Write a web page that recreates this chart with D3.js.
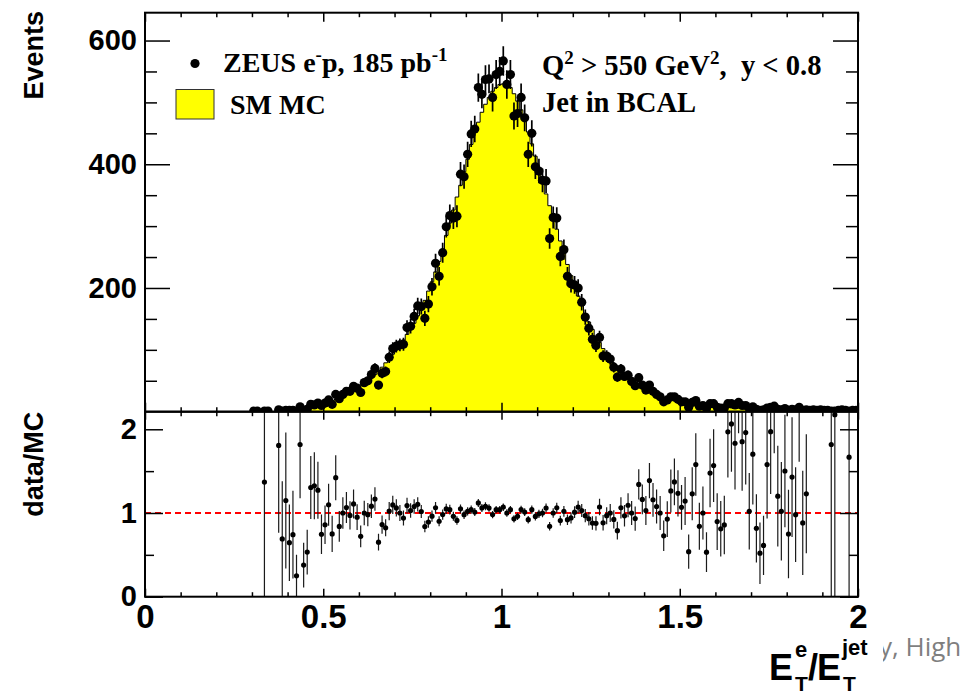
<!DOCTYPE html>
<html><head><meta charset="utf-8">
<script src="https://cdn.jsdelivr.net/npm/d3@7"></script>
<style>body{margin:0;background:#fff}svg{display:block}</style>
</head><body>
<svg id="c" width="969" height="692"></svg>
<script>
// ---------------- data ----------------
const binLow = 0, binWidth = 0.01, nBins = 200;
// SM MC histogram (events per bin of 0.01)
const mcValues = [
0,0,0,0,0,0,0,0,0,0, 0,0,0,0,0,0,0,0,0,0, 0,0,0,0,0,0,0,0,0,0,
0,0,0,0.73,0,0,0,1.66,1.45,1.74, 3.1,2.7,4.0,4.4,5.3,7.5,9.2,8.3,11,13.4,
16.3,17.3,16,19.7,25,28,31,34,37,40, 43,47,51,55.5,60,66,72,79,86,93,
100,108,116,125,134,143,155,167,180,195, 210,226,243,262,285,305,326,347,366,388,
408,432,452,468,484,497,508,518,524,529, 530,529,524,514,502,488,470,452,433,413,
393,374,352,333,314,295,276,257,238,220, 203,187,172,158,145,133,122,112,102,93,
85,78,71,65,59,54,49,45,41,37, 34,31,28.5,26,24,22,20.5,19,17.5,16.2,
15,14,13,12.2,11.4,10.7,10,9.4,8.8,8.3, 7.8,7.4,7.0,6.6,6.3,6.0,5.7,5.4,5.1,4.9,
4.7,4.9,3.85,4.9,3.8,3.55,3.5,3.33,2.94,3.33, 2.67,2.8,3.06,2.7,2.27,2.44,0,0,0,0,
0,0,0.55,0.46,0,0,0,0.6,0,0
];
// ZEUS e-p data (events per bin)
const dataValues = [
0,0,0,0,0,0,0,0,0,0, 0,0,0,0,0,0,0,0,0,0, 0,0,0,0,0,0,0,0,0,0,
1,1,0,1,1,0,0,3,1,2, 2,2,1,8,2,4,12,11,14,10,
14,19,12,28,21,28,33,33,41,38, 31,47,50,60,70,43,62,65,88,102,
106,108,109,136,138,154,171,170,151,174, 202,240,219,257,299,317,313,316,384,380,
416,449,457,524,513,537,538,508,545,550, 567,529,545,478,482,508,475,416,450,396,
389,374,373,280,314,313,251,262,219,207, 205,200,177,153,135,117,107,120,90,90,
85,72,56,69,57,59,49,42,55,43, 35,43,33,28,24,16,19,24,24,20,
16,16,7,15,18,9,10,5,13,13, 7,6,6,13,13,11,15,10,10,5,
8,4,2,3,6,7,9,4,3,5, 2,4,3,7,2,3,2,3,2,3,
2,2,1,1,2,3,2,1,2,2
];
const xMajorTicks = [0, 0.5, 1, 1.5, 2];
const xTickLabels = ["0", "0.5", "1", "1.5", "2"];
const yMajorTicks = [200, 400, 600];
const ratioMajorTicks = [0, 1, 2];
const ratioMinorTicks = [0.5, 1.5];

// ---------------- layout ----------------
const X0 = 145, X1 = 858, TOP = 12.7, MID = 411.7, BOT = 596.7;
const sans = "'Liberation Sans', Arial, Helvetica, sans-serif";
const serif = "'Liberation Serif', 'Times New Roman', serif";
const svg = d3.select("#c");
svg.append("rect").attr("width", 969).attr("height", 692).attr("fill", "#fff");

const x = d3.scaleLinear().domain([0, 2]).range([X0, X1]);
const y = d3.scaleLinear().domain([0, 645]).range([MID, TOP]);
const yr = d3.scaleLinear().domain([0, 2.21]).range([BOT, MID]);

const defs = svg.append("defs");
defs.append("clipPath").attr("id", "clipTop").append("rect")
  .attr("x", X0).attr("y", TOP).attr("width", X1 - X0).attr("height", MID - TOP);
defs.append("clipPath").attr("id", "clipRat").append("rect")
  .attr("x", X0).attr("y", MID).attr("width", X1 - X0).attr("height", BOT - MID);
defs.append("clipPath").attr("id", "clipHigh").append("rect")
  .attr("x", 883).attr("y", 620).attr("width", 86).attr("height", 50);

const bins = d3.range(nBins).map(i => ({
  lo: binLow + i * binWidth,
  c: binLow + (i + 0.5) * binWidth,
  mc: mcValues[i],
  d: dataValues[i]
}));

// ---------------- top panel ----------------
const gTop = svg.append("g").attr("clip-path", "url(#clipTop)");
const stepPts = bins.map(b => [b.lo, b.mc]).concat([[binLow + nBins * binWidth, mcValues[nBins - 1]]]);
gTop.append("path")
  .attr("d", d3.area().x(p => x(p[0])).y0(y(0)).y1(p => y(p[1])).curve(d3.curveStepAfter)(stepPts))
  .attr("fill", "#ffff00");
gTop.append("path")
  .attr("d", d3.line().x(p => x(p[0])).y(p => y(p[1])).curve(d3.curveStepAfter)(stepPts))
  .attr("fill", "none").attr("stroke", "#000").attr("stroke-width", 1);

const dataBins = bins.filter(b => b.d > 0);
gTop.selectAll("line.err").data(dataBins).join("line")
  .attr("x1", b => x(b.c)).attr("x2", b => x(b.c))
  .attr("y1", b => y(b.d + Math.sqrt(b.d))).attr("y2", b => y(Math.max(0, b.d - Math.sqrt(b.d))))
  .attr("stroke", "#000").attr("stroke-width", 1.7);
gTop.selectAll("circle.pt").data(dataBins).join("circle")
  .attr("cx", b => x(b.c)).attr("cy", b => y(b.d)).attr("r", 4.6).attr("fill", "#000");

// ---------------- ratio panel ----------------
const gRat = svg.append("g").attr("clip-path", "url(#clipRat)");
gRat.append("line").attr("x1", X0).attr("x2", X1).attr("y1", yr(1)).attr("y2", yr(1))
  .attr("stroke", "#ff0000").attr("stroke-width", 2).attr("stroke-dasharray", "6,4");
const ratBins = bins.filter(b => b.mc > 0 && b.d > 0).map(b => ({
  c: b.c, r: b.d / b.mc, e: Math.sqrt(b.d) / b.mc
}));
gRat.selectAll("line.rerr").data(ratBins).join("line")
  .attr("x1", b => x(b.c)).attr("x2", b => x(b.c))
  .attr("y1", b => yr(b.r + b.e)).attr("y2", b => yr(Math.max(0, b.r - b.e)))
  .attr("stroke", "#1a1a1a").attr("stroke-width", 1.2);
gRat.selectAll("circle.rpt").data(ratBins).join("circle")
  .attr("cx", b => x(b.c)).attr("cy", b => yr(b.r)).attr("r", 2.6).attr("fill", "#000");

// ---------------- axes (ticks inward, ROOT style) ----------------
function styleAxis(g) {
  g.select(".domain").remove();
  g.selectAll(".tick line").attr("stroke", "#000").attr("stroke-width", 1.5);
}
const xMinor = d3.range(0, 2.0001, 0.1).filter(v => Math.abs(v * 2 - Math.round(v * 2)) > 1e-6);
const yMinor = d3.range(0, 645, 50).filter(v => v % 200 !== 0);

function xTicksAt(yPos, dir, major, minor) {
  const mk = dir > 0 ? d3.axisBottom : d3.axisTop;
  svg.append("g").attr("transform", `translate(0,${yPos})`)
    .call(mk(x).tickValues(xMajorTicks).tickSize(-major).tickFormat("")).call(styleAxis);
  svg.append("g").attr("transform", `translate(0,${yPos})`)
    .call(mk(x).tickValues(xMinor).tickSize(-minor).tickFormat("")).call(styleAxis);
}
xTicksAt(MID, 1, 9, 4.5);
xTicksAt(TOP, -1, 9, 4.5);
xTicksAt(BOT, 1, 8, 4.5);
xTicksAt(MID, -1, 8, 4.5);

// top-panel y ticks
svg.append("g").attr("transform", `translate(${X0},0)`)
  .call(d3.axisLeft(y).tickValues(yMajorTicks).tickSize(-25).tickPadding(8))
  .call(styleAxis)
  .call(g => g.selectAll("text").attr("font-family", sans).attr("font-weight", "bold")
    .attr("font-size", 29).attr("fill", "#000"));
svg.append("g").attr("transform", `translate(${X0},0)`)
  .call(d3.axisLeft(y).tickValues(yMinor).tickSize(-12).tickFormat("")).call(styleAxis);
svg.append("g").attr("transform", `translate(${X1},0)`)
  .call(d3.axisRight(y).tickValues(yMajorTicks).tickSize(-25).tickFormat("")).call(styleAxis);
svg.append("g").attr("transform", `translate(${X1},0)`)
  .call(d3.axisRight(y).tickValues(yMinor).tickSize(-12).tickFormat("")).call(styleAxis);

// ratio y ticks
svg.append("g").attr("transform", `translate(${X0},0)`)
  .call(d3.axisLeft(yr).tickValues(ratioMajorTicks).tickSize(-18).tickPadding(8).tickFormat(d3.format("d")))
  .call(styleAxis)
  .call(g => g.selectAll("text").attr("font-family", sans).attr("font-weight", "bold")
    .attr("font-size", 29).attr("fill", "#000"));
svg.append("g").attr("transform", `translate(${X0},0)`)
  .call(d3.axisLeft(yr).tickValues(ratioMinorTicks).tickSize(-9).tickFormat("")).call(styleAxis);
svg.append("g").attr("transform", `translate(${X1},0)`)
  .call(d3.axisRight(yr).tickValues(ratioMajorTicks).tickSize(-18).tickFormat("")).call(styleAxis);
svg.append("g").attr("transform", `translate(${X1},0)`)
  .call(d3.axisRight(yr).tickValues(ratioMinorTicks).tickSize(-9).tickFormat("")).call(styleAxis);

// x tick labels
svg.append("g").attr("transform", `translate(0,${BOT})`)
  .call(d3.axisBottom(x).tickValues(xMajorTicks).tickSize(0).tickPadding(0)
    .tickFormat((d, i) => xTickLabels[i]))
  .call(g => g.select(".domain").remove())
  .call(g => g.selectAll("text").attr("font-family", sans).attr("font-weight", "bold")
    .attr("font-size", 33).attr("fill", "#000").attr("dy", null).attr("y", 31));

// frames
svg.append("rect").attr("x", X0).attr("y", TOP).attr("width", X1 - X0).attr("height", MID - TOP)
  .attr("fill", "none").attr("stroke", "#000").attr("stroke-width", 2);
svg.append("rect").attr("x", X0).attr("y", MID).attr("width", X1 - X0).attr("height", BOT - MID)
  .attr("fill", "none").attr("stroke", "#000").attr("stroke-width", 2);

// axis titles
svg.append("text").attr("transform", "translate(43,11) rotate(-90)")
  .attr("text-anchor", "end").attr("font-family", sans).attr("font-weight", "bold")
  .attr("font-size", 27).text("Events");
svg.append("text").attr("transform", `translate(43,${MID}) rotate(-90)`)
  .attr("text-anchor", "end").attr("font-family", sans).attr("font-weight", "bold")
  .attr("font-size", 27).text("data/MC");

const xt = svg.append("g").attr("font-family", sans).attr("font-weight", "bold").attr("fill", "#000");
xt.append("text").attr("x", 769).attr("y", 680).attr("font-size", 36).text("E");
xt.append("text").attr("x", 795).attr("y", 657).attr("font-size", 22).text("e");
xt.append("text").attr("x", 795).attr("y", 691).attr("font-size", 21).text("T");
xt.append("text").attr("x", 808).attr("y", 680).attr("font-size", 36).text("/");
xt.append("text").attr("x", 817).attr("y", 680).attr("font-size", 36).text("E");
xt.append("text").attr("x", 842).attr("y", 655).attr("font-size", 22).text("jet");
xt.append("text").attr("x", 843).attr("y", 691).attr("font-size", 21).text("T");

// ---------------- legend & labels ----------------
svg.append("circle").attr("cx", 195).attr("cy", 63.5).attr("r", 4.6).attr("fill", "#000");
const t1 = svg.append("text").attr("x", 223).attr("y", 72).attr("font-family", serif)
  .attr("font-weight", "bold").attr("font-size", 28);
t1.append("tspan").text("ZEUS e");
t1.append("tspan").attr("dy", -11).attr("font-size", 19).text("-");
t1.append("tspan").attr("dy", 11).text("p, 185 pb");
t1.append("tspan").attr("dy", -11).attr("font-size", 19).text("-1");

svg.append("rect").attr("x", 176).attr("y", 89.5).attr("width", 38).attr("height", 29.5)
  .attr("fill", "#ffff00").attr("stroke", "#333").attr("stroke-width", 1);
svg.append("text").attr("x", 230).attr("y", 113.5).attr("font-family", serif)
  .attr("font-weight", "bold").attr("font-size", 28).text("SM MC");

const t2 = svg.append("text").attr("x", 542).attr("y", 75).attr("font-family", serif)
  .attr("font-weight", "bold").attr("font-size", 28.6);
t2.append("tspan").text("Q");
t2.append("tspan").attr("dy", -11).attr("font-size", 19).text("2");
t2.append("tspan").attr("dy", 11).text(" > 550 GeV");
t2.append("tspan").attr("dy", -11).attr("font-size", 19).text("2");
t2.append("tspan").attr("dy", 11).text(",\u00a0\u00a0y < 0.8");
svg.append("text").attr("x", 542).attr("y", 112).attr("font-family", serif)
  .attr("font-weight", "bold").attr("font-size", 28.6).text("Jet in BCAL");

// partial slide text at the bottom right (partly hidden behind the chart image)
svg.append("text").attr("x", 879).attr("y", 656).attr("clip-path", "url(#clipHigh)")
  .attr("font-family", "'Open Sans', 'Noto Sans', sans-serif").attr("font-size", 26)
  .attr("fill", "#7f7f7f").text("y, High");
</script>
</body></html>
